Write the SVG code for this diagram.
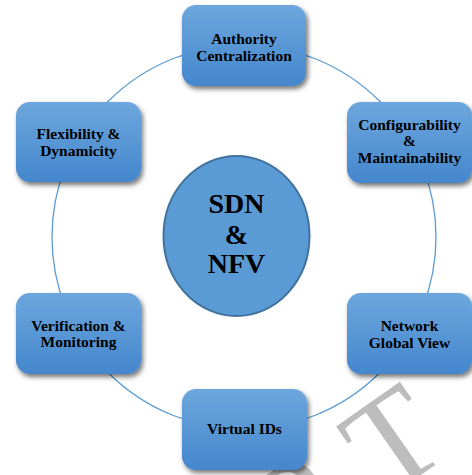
<svg xmlns="http://www.w3.org/2000/svg" width="472" height="475" viewBox="0 0 472 475">
<defs>
<linearGradient id="g" x1="0" y1="0" x2="0" y2="1">
<stop offset="0" stop-color="#6da6dd"/>
<stop offset="1" stop-color="#4487cd"/>
</linearGradient>
<filter id="sh" x="-20%" y="-20%" width="150%" height="150%">
<feDropShadow dx="2" dy="3" stdDeviation="2.5" flood-color="#000" flood-opacity="0.55"/>
</filter>
<style>
.box{fill:url(#g);filter:url(#sh)}
.t{font-family:"Liberation Serif","Times New Roman",serif;font-weight:bold;font-size:15.5px;fill:#000;text-anchor:middle}
.big{font-size:28px}
.ring{fill:none;stroke:#5b9bd5;stroke-width:1.3}
</style>
</defs>
<rect width="472" height="475" fill="#fff"/>
<g id="watermark" fill="#bdbdbd" font-family="Liberation Serif,serif" font-size="135" transform="translate(292,565) rotate(-35)">
<text x="0" y="0" letter-spacing="38">PT</text>
</g>
<g id="connectors">
<circle class="ring" cx="244" cy="237" r="192"/>
</g>
<g id="center">
<ellipse cx="236.5" cy="236" rx="73" ry="80" fill="#5b9bd5" stroke="#41719c" stroke-width="2"/>
<text class="t big" x="236.5" y="213">SDN</text>
<text class="t big" x="236.5" y="244">&amp;</text>
<text class="t big" x="236.5" y="273">NFV</text>
</g>
<g id="authority">
<rect class="box" x="182" y="5" width="124" height="81" rx="14"/>
<text class="t" x="244" y="44">Authority</text>
<text class="t" x="244" y="61">Centralization</text>
</g>
<g id="configurability">
<rect class="box" x="347" y="102" width="125" height="81" rx="14"/>
<text class="t" x="409.5" y="130">Configurability</text>
<text class="t" x="409.5" y="146">&amp;</text>
<text class="t" x="409.5" y="163">Maintainability</text>
</g>
<g id="flexibility">
<rect class="box" x="16" y="102" width="125" height="80" rx="14"/>
<text class="t" x="78.5" y="139">Flexibility &amp;</text>
<text class="t" x="78.5" y="156">Dynamicity</text>
</g>
<g id="verification">
<rect class="box" x="16" y="293" width="125" height="81" rx="14"/>
<text class="t" x="78.5" y="331">Verification &amp;</text>
<text class="t" x="78.5" y="347">Monitoring</text>
</g>
<g id="network">
<rect class="box" x="347" y="293" width="125" height="81" rx="14"/>
<text class="t" x="409.5" y="331">Network</text>
<text class="t" x="409.5" y="348">Global View</text>
</g>
<g id="virtual">
<rect class="box" x="182" y="389" width="125" height="81" rx="14"/>
<text class="t" x="244.5" y="434">Virtual IDs</text>
</g>
</svg>
